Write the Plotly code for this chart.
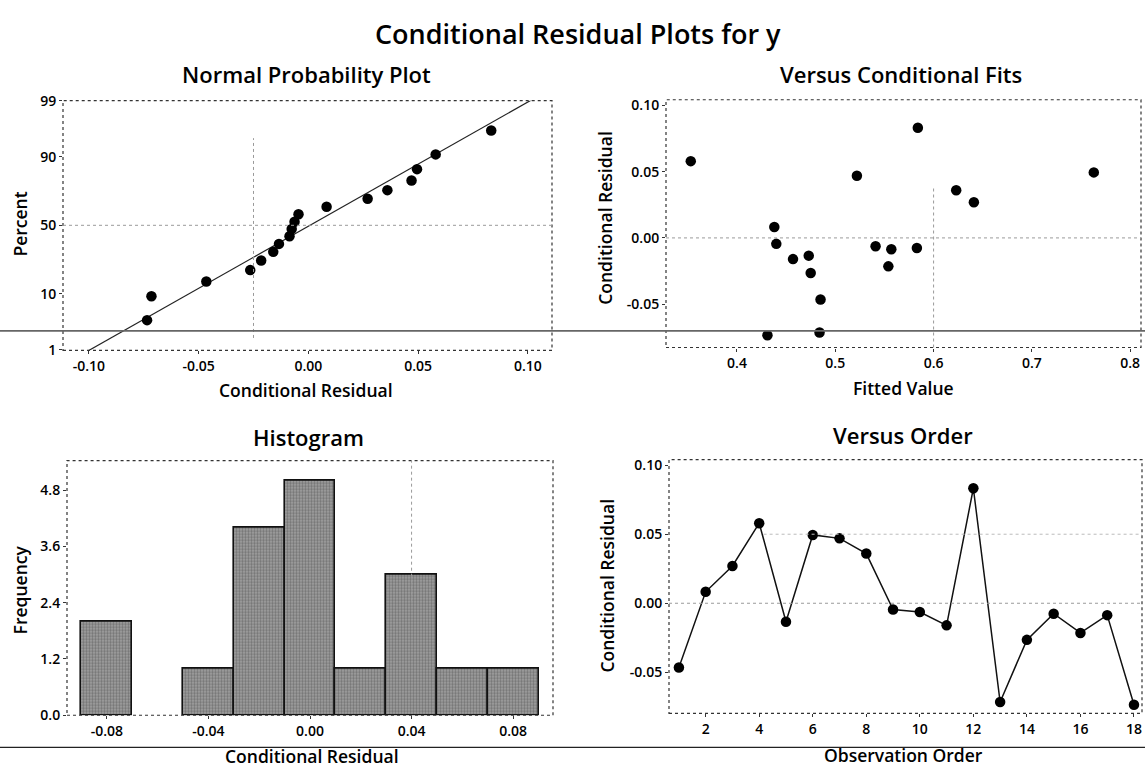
import plotly.graph_objects as go
from statistics import NormalDist, mean, stdev

# ---- data -------------------------------------------------------------
observation = list(range(1, 19))
residuals = [-0.0465, 0.0083, 0.0270, 0.0580, -0.0134, 0.0495, 0.0470, 0.0360,
             -0.0045, -0.0063, -0.0160, 0.0833, -0.0715, -0.0265, -0.0076,
             -0.0215, -0.0086, -0.0735]
fitted = [0.485, 0.438, 0.641, 0.353, 0.473, 0.763, 0.522, 0.623, 0.440,
          0.541, 0.457, 0.584, 0.484, 0.475, 0.583, 0.554, 0.557, 0.431]
percent_ticks = [1, 10, 50, 90, 99]
resid_ticks = [-0.10, -0.05, 0.00, 0.05, 0.10]
fit_ticks = [0.4, 0.5, 0.6, 0.7, 0.8]
freq_ticks = [0.0, 1.2, 2.4, 3.6, 4.8]
hist_ticks = [-0.08, -0.04, 0.00, 0.04, 0.08]
order_ticks = [2, 4, 6, 8, 10, 12, 14, 16, 18]
bin_start, bin_end, bin_size = -0.09, 0.09, 0.02

# ---- page geometry (pixels) -------------------------------------------
W, H = 1145, 774
FONT = "Open Sans"


def fx(px):
    return px / W


def fy(py):
    return 1 - py / H


nd = NormalDist()
n = len(residuals)
sorted_res = sorted(residuals)
# Benard median ranks on a normal-score axis
zscores = [nd.inv_cdf((i + 1 - 0.3) / (n + 0.4)) for i in range(n)]
mu, sd = mean(residuals), stdev(residuals)
line_z = [-2.6, 2.6]
line_x = [mu + z * sd for z in line_z]

fig = go.Figure()

marker = dict(color="black", size=10.5, symbol="circle")

# Normal probability plot
fig.add_trace(go.Scatter(x=line_x, y=line_z, mode="lines",
                         line=dict(color="#222", width=1.2),
                         xaxis="x", yaxis="y", hoverinfo="skip"))
fig.add_trace(go.Scatter(x=sorted_res, y=zscores, mode="markers", marker=marker,
                         xaxis="x", yaxis="y"))

# Versus fits
fig.add_trace(go.Scatter(x=fitted, y=residuals, mode="markers", marker=marker,
                         xaxis="x2", yaxis="y2"))

# Histogram
fig.add_trace(go.Histogram(x=residuals,
                           xbins=dict(start=bin_start, end=bin_end, size=bin_size),
                           marker=dict(color="#8e8e8e",
                                       line=dict(color="#111", width=1.6),
                                       pattern=dict(shape=".", fgcolor="#444444",
                                                    bgcolor="#a4a4a4", size=3,
                                                    solidity=0.5)),
                           xaxis="x3", yaxis="y3"))

# Versus order
fig.add_trace(go.Scatter(x=observation, y=residuals, mode="lines+markers",
                         line=dict(color="#111", width=1.5), marker=marker,
                         xaxis="x4", yaxis="y4"))

tickfont = dict(family=FONT, size=14, color="black", weight=600)


def xax(domain, rng, tickvals, fmt, anchor):
    return dict(domain=domain, range=rng, tickvals=tickvals,
                ticktext=[fmt.format(v) for v in tickvals], anchor=anchor,
                showgrid=False, zeroline=False, showline=False,
                ticks="outside", ticklen=3, tickcolor="#333",
                tickfont=tickfont, fixedrange=True)


def yax(domain, rng, tickvals, ticktext, anchor):
    return dict(domain=domain, range=rng, tickvals=tickvals, ticktext=ticktext,
                anchor=anchor, showgrid=False, zeroline=False, showline=False,
                ticks="outside", ticklen=3, tickcolor="#333",
                tickfont=tickfont, fixedrange=True)


frames = {
    "1": (63, 552, 93, 349),
    "2": (666, 1141, 92, 346),
    "3": (67, 553, 462, 723),
    "4": (669, 1142, 461, 721),
}


def dom(key):
    x0, x1, y0, y1 = frames[key]
    return [fx(x0), fx(x1)], [fy(y1), fy(y0)]


d1x, d1y = dom("1")
d2x, d2y = dom("2")
d3x, d3y = dom("3")
d4x, d4y = dom("4")

fig.update_layout(
    width=W, height=H, margin=dict(l=0, r=0, t=0, b=0),
    paper_bgcolor="white", plot_bgcolor="white", showlegend=False,
    font=dict(family=FONT, color="black"),
    xaxis=xax(d1x, [-0.1118, 0.111], resid_ticks, "{:.2f}", "y"),
    yaxis=yax(d1y, [-2.34, 2.33], [nd.inv_cdf(p / 100) for p in percent_ticks],
              [str(p) for p in percent_ticks], "x"),
    xaxis2=xax(d2x, [0.3278, 0.811], fit_ticks, "{:.1f}", "y2"),
    yaxis2=yax(d2y, [-0.0828, 0.1044], resid_ticks[1:],
               ["{:.2f}".format(v) for v in resid_ticks[1:]], "x2"),
    xaxis3=xax(d3x, [-0.0957, 0.0957], hist_ticks, "{:.2f}", "y3"),
    yaxis3=yax(d3y, [0, 5.43], freq_ticks, ["{:.1f}".format(v) for v in freq_ticks], "x3"),
    xaxis4=xax(d4x, [0.63, 18.3], order_ticks, "{}", "y4"),
    yaxis4=yax(d4y, [-0.0797, 0.104], resid_ticks[1:],
               ["{:.2f}".format(v) for v in resid_ticks[1:]], "x4"),
    bargap=0,
)

shapes = []
# dotted panel frames
for k in ["", "2", "3", "4"]:
    shapes.append(dict(type="rect", xref=f"x{k} domain", yref=f"y{k} domain",
                       x0=0, x1=1, y0=0, y1=1,
                       line=dict(color="#333", width=1.2, dash="dot"), layer="above"))

ref = dict(color="#9a9a9a", width=1, dash="dot")
# faint reference lines
shapes += [
    dict(type="line", xref="x", yref="y domain", x0=-0.025, x1=-0.025, y0=0.05, y1=0.85, line=ref),
    dict(type="line", xref="x domain", yref="y", x0=0, x1=1, y0=0, y1=0, line=ref),
    dict(type="line", xref="x2", yref="y2 domain", x0=0.6, x1=0.6, y0=0, y1=0.65, line=ref),
    dict(type="line", xref="x2 domain", yref="y2", x0=0, x1=1, y0=0, y1=0, line=ref),
    dict(type="line", xref="x3", yref="y3 domain", x0=0.04, x1=0.04, y0=0.45, y1=1, line=ref),
    dict(type="line", xref="x4 domain", yref="y4", x0=0, x1=1, y0=0, y1=0, line=ref),
    dict(type="line", xref="x4 domain", yref="y4", x0=0.2, x1=1, y0=0.05, y1=0.05,
         line=dict(color="#bbbbbb", width=1, dash="dot")),
]
# page rules
shapes += [
    dict(type="line", xref="paper", yref="paper", x0=0, x1=1, y0=fy(329), y1=fy(329),
         line=dict(color="#666", width=1.6)),
    dict(type="line", xref="paper", yref="paper", x0=0, x1=1, y0=fy(756), y1=fy(756),
         line=dict(color="#222", width=1.3)),
]
fig.update_layout(shapes=shapes)


def label(text, px, py, size, angle=0, weight=600):
    return dict(text=text, x=fx(px), y=fy(py), xref="paper", yref="paper",
                showarrow=False, textangle=angle, xanchor="center", yanchor="middle",
                font=dict(family=FONT, size=size, color="black", weight=weight))


annotations = [
    label("Conditional Residual Plots for y", 578, 24, 27),
    label("Normal Probability Plot", 306, 66, 22),
    label("Versus Conditional Fits", 901, 66, 22),
    label("Histogram", 308, 438, 22),
    label("Versus Order", 903, 436, 22),
    label("Conditional Residual", 306, 390, 17.5),
    label("Fitted Value", 903, 388, 17.5),
    label("Conditional Residual", 312, 765, 17.5),
    label("Observation Order", 903, 764, 17.5),
    label("Percent", 20, 220, 17.5, -90),
    label("Conditional Residual", 605, 213, 17.5, -90),
    label("Frequency", 20, 595, 17.5, -90),
    label("Conditional Residual", 607, 590, 17.5, -90),
]
fig.update_layout(annotations=annotations)

fig.write_html("out.html")
